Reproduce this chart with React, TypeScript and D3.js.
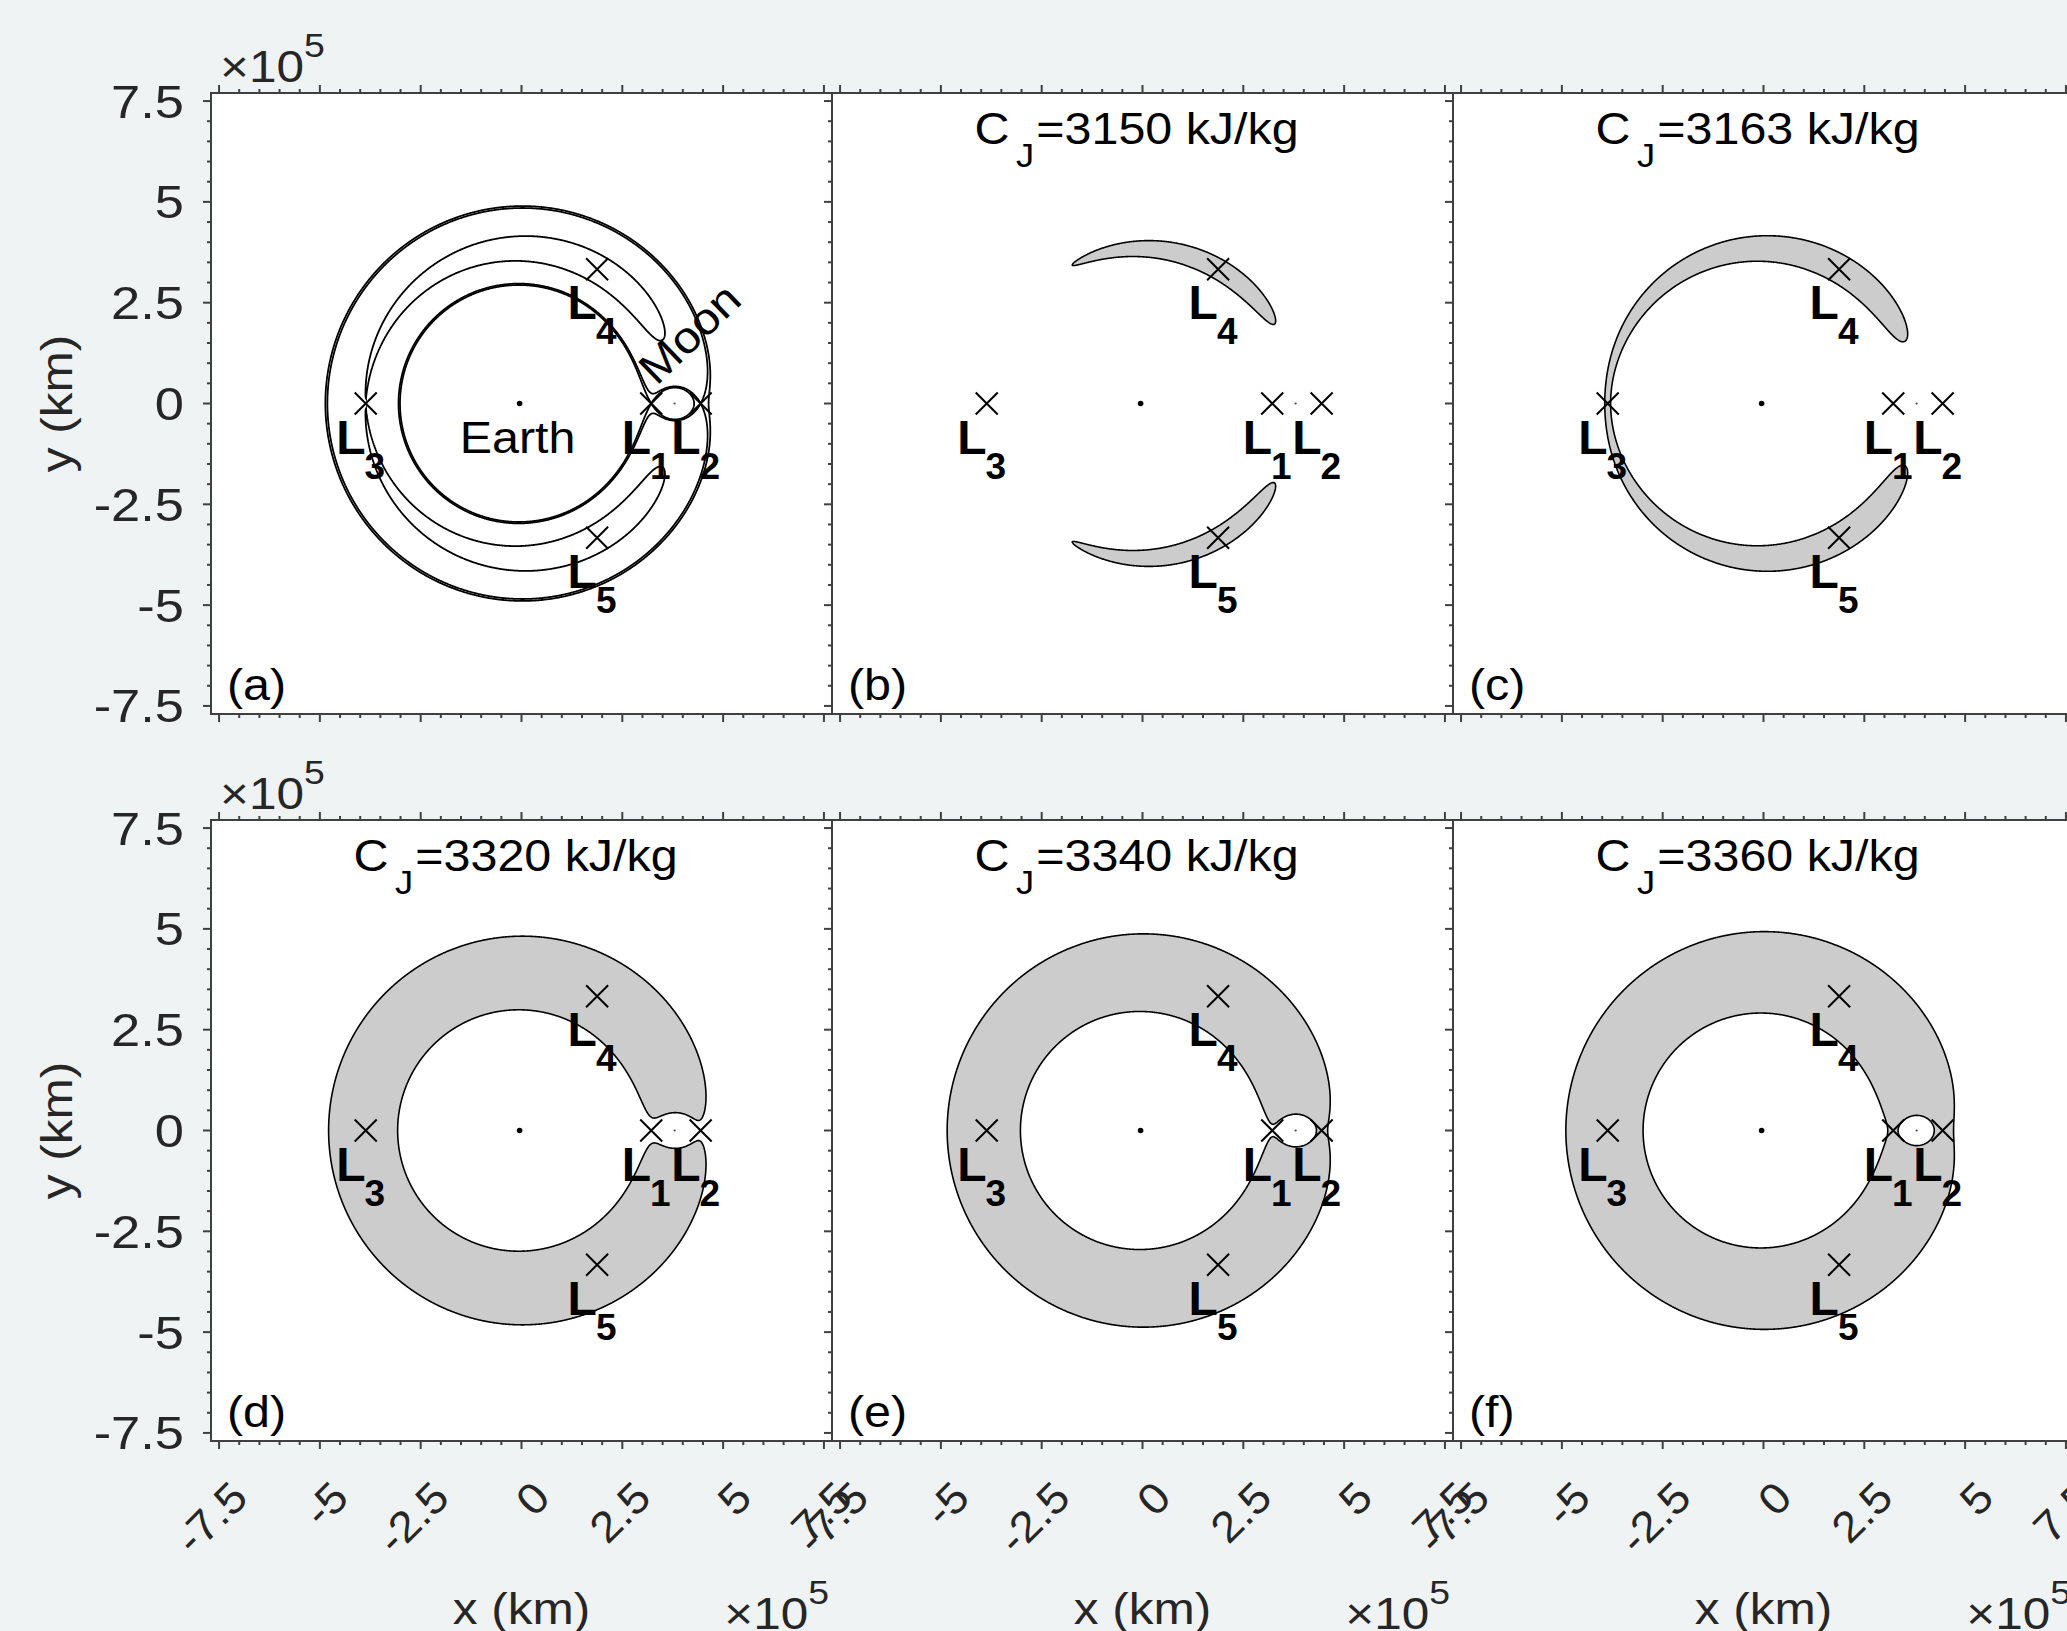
import React, { useMemo } from 'react';
import * as d3 from 'd3';

// panels a..f: Jacobi constant of the shaded forbidden region (kJ/kg); null = contour lines only
const panelLetters = ['a', 'b', 'c', 'd', 'e', 'f'];
const panelJacobi: (number | null)[] = [null, 3150, 3163, 3320, 3340, 3360];

// Lagrange points in the rotating frame (km)
const lagrangeNames = ['1', '2', '3', '4', '5'];
const lagrangeX = [321712, 444243, -386345, 187528, 187528];
const lagrangeY = [0, 0, 0, 332900, -332900];
// panel (a) draws the zero-velocity curves through these points (L1, L2, L3)
const lineLevelPoints = [0, 1, 2];

// primaries
const bodyNames = ['Earth', 'Moon'];
const bodyX = [-4671, 379729];

// axis ticks (x 1e5 km)
const tickValues = [-7.5, -5, -2.5, 0, 2.5, 5, 7.5];
const tickLabels = ['-7.5', '-5', '-2.5', '0', '2.5', '5', '7.5'];

// Earth-Moon system
const D = 384400; // km
const MU = 0.012151;
const UNIT = 1049.7; // G(M1+M2)/D in kJ/kg
const EXT = 7.7e5; // half-width of each plot, km

const jacobi = (x: number, y: number) => {
  const X = x / D;
  const Y = y / D;
  const r1 = Math.hypot(X + MU, Y);
  const r2 = Math.hypot(X - 1 + MU, Y);
  return (X * X + Y * Y + (2 * (1 - MU)) / r1 + (2 * MU) / r2) * UNIT;
};

const W = 2067;
const H = 1631;
const SIZE = 621;
const COLS = [211, 832, 1453];
const ROWS = [93, 820];
const FONT = "'Liberation Sans', Arial, Helvetica, sans-serif";
const INK = '#262626';
const AXIS = '#404040';
const N = 931;
const STEP = (2 * EXT) / N;

function buildGrid() {
  const v = new Array(N * N);
  for (let j = 0; j < N; j++) {
    const y = EXT - (j + 0.5) * STEP;
    for (let i = 0; i < N; i++) {
      const x = -EXT + (i + 0.5) * STEP;
      v[j * N + i] = -Math.min(jacobi(x, y), 1e7);
    }
  }
  return v;
}

function Panel({ idx, grid }: { idx: number; grid: number[] }) {
  const col = idx % 3;
  const row = Math.floor(idx / 3);
  const x0 = COLS[col];
  const y0 = ROWS[row];
  const xs = d3.scaleLinear().domain([-EXT, EXT]).range([x0, x0 + SIZE]);
  const ys = d3.scaleLinear().domain([-EXT, EXT]).range([y0 + SIZE, y0]);
  const proj = d3.geoTransform({
    point(gx: number, gy: number) {
      (this as any).stream.point(xs(-EXT + gx * STEP), ys(EXT - gy * STEP));
    },
  });
  const path = d3.geoPath(proj as any);
  const gen = d3.contours().size([N, N]);
  const cj = panelJacobi[idx];

  const minor = xs.ticks(30);
  const isMajor = (v: number) => tickValues.some((t) => Math.abs(t * 1e5 - v) < 1);

  let regions: React.ReactNode;
  if (cj == null) {
    regions = lineLevelPoints.map((k) => {
      const level = jacobi(lagrangeX[k], lagrangeY[k]);
      const c = gen.contour(grid, -level);
      return <path key={k} d={path(c as any) || ''} fill="none" stroke="#000" strokeWidth={1.8} />;
    });
  } else {
    const c = gen.contour(grid, -cj);
    regions = <path d={path(c as any) || ''} fill="#cccccc" fillRule="evenodd" stroke="#000" strokeWidth={1.6} />;
  }

  return (
    <g>
      <rect x={x0} y={y0} width={SIZE} height={SIZE} fill="#fff" />
      {regions}
      {/* primaries */}
      <circle cx={xs(bodyX[0])} cy={ys(0)} r={2.8} fill="#000" />
      <circle cx={xs(bodyX[1])} cy={ys(0)} r={1.1} fill="#444" />
      {/* Lagrange points */}
      {lagrangeNames.map((n, k) => {
        const px = xs(lagrangeX[k]);
        const py = ys(lagrangeY[k]);
        const s = 11;
        return (
          <g key={n}>
            <path d={`M${px - s},${py - s}L${px + s},${py + s}M${px - s},${py + s}L${px + s},${py - s}`} stroke="#000" strokeWidth={2} />
            <text x={px - 29.5} y={py + 50} fontFamily={FONT} fontWeight="bold" fontSize={48} fill="#000">
              L<tspan fontSize={37} dx={-1} dy={25}>{n}</tspan>
            </text>
          </g>
        );
      })}
      {cj == null && (
        <g>
          <text transform={`translate(${xs(bodyX[0]) - 2},${ys(0) + 49}) scale(1.1,1)`} textAnchor="middle" fontFamily={FONT} fontSize={44} fill="#000">
            {bodyNames[0]}
          </text>
          <text transform={`translate(${xs(bodyX[1]) - 18},${ys(0) - 17}) rotate(-44) scale(1.1,1)`} fontFamily={FONT} fontSize={44} fill="#000">
            {bodyNames[1]}
          </text>
        </g>
      )}
      {cj != null && (
        <text transform={`translate(${x0 + SIZE / 2 - 6},${y0 + 51}) scale(1.1,1)`} textAnchor="middle" fontFamily={FONT} fontSize={44} fill="#000">
          C<tspan fontSize={33} dx={6} dy={23}>J</tspan>
          <tspan dx={2} dy={-23}>={cj} kJ/kg</tspan>
        </text>
      )}
      <text transform={`translate(${x0 + 16},${y0 + SIZE - 14}) scale(1.1,1)`} fontFamily={FONT} fontSize={44} fill="#000">
        ({panelLetters[idx]})
      </text>

      {/* axes box and ticks */}
      <rect x={x0} y={y0} width={SIZE} height={SIZE} fill="none" stroke={AXIS} strokeWidth={2} />
      {minor.map((v) => {
        const len = isMajor(v) ? 8 : 4;
        const tx = xs(v);
        const ty = ys(v);
        return (
          <g key={v} stroke={AXIS} strokeWidth={2}>
            <line x1={x0 - len} x2={x0} y1={ty} y2={ty} />
            <line x1={tx} x2={tx} y1={y0 - len} y2={y0} />
            <line x1={tx} x2={tx} y1={y0 + SIZE} y2={y0 + SIZE + len} />
          </g>
        );
      })}

      {col === 0 && (
        <g fontFamily={FONT} fill={INK}>
          {tickValues.map((t, k) => (
            <text key={t} transform={`translate(${x0 - 27},${ys(t * 1e5) + 16.5}) scale(1.14,1)`} textAnchor="end" fontSize={46}>
              {tickLabels[k]}
            </text>
          ))}
          <text transform={`translate(72,${y0 + SIZE / 2}) rotate(-90) scale(1.1,1)`} textAnchor="middle" fontSize={45}>
            y (km)
          </text>
          <text transform={`translate(${x0 + 9},${y0 - 11}) scale(1.1,1)`} fontSize={45}>
            ×10<tspan fontSize={34} dy={-25}>5</tspan>
          </text>
        </g>
      )}

      {row === 1 && (
        <g fontFamily={FONT} fill={INK}>
          {tickValues.map((t, k) => (
            <text
              key={t}
              transform={`translate(${xs(t * 1e5) + 20},${y0 + SIZE + 48}) rotate(-45) scale(1.08,1)`}
              textAnchor="end"
              dominantBaseline="central"
              fontSize={43}
            >
              {tickLabels[k]}
            </text>
          ))}
          <text transform={`translate(${xs(0)},1624) scale(1.1,1)`} textAnchor="middle" fontSize={45}>
            x (km)
          </text>
          <text transform={`translate(${x0 + SIZE - 3},1629) scale(1.1,1)`} textAnchor="end" fontSize={45}>
            ×10<tspan fontSize={34} dy={-25}>5</tspan>
          </text>
        </g>
      )}
    </g>
  );
}

export default function App() {
  const grid = useMemo(buildGrid, []);
  return (
    <svg width={W} height={H} style={{ position: 'absolute', left: 0, top: 0, display: 'block' }}>
      <rect width={W} height={H} fill="#f0f3f4" />
      {panelLetters.map((l, i) => (
        <Panel key={l} idx={i} grid={grid} />
      ))}
    </svg>
  );
}
